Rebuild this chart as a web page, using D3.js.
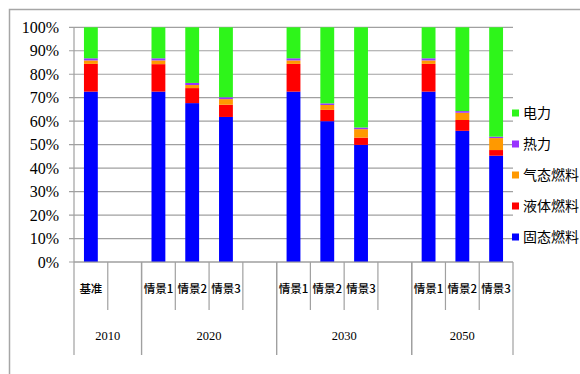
<!DOCTYPE html>
<html>
<head>
<meta charset="utf-8">
<script src="https://cdn.jsdelivr.net/npm/d3@7/dist/d3.min.js"></script>
<style>
  body { margin: 0; background: #fff; }
  svg { display: block; }
</style>
</head>
<body>
<svg id="chart" width="580" height="374"></svg>
<script>
// slots along the x axis, blanks are empty gaps between years
const categories = ['基准', '', '情景1', '情景2', '情景3', '', '情景1', '情景2', '情景3', '', '情景1', '情景2', '情景3']
const groups = [
  { label: '2010', span: 2 },
  { label: '2020', span: 4 },
  { label: '2030', span: 4 },
  { label: '2050', span: 3 }
]
const seriesNames = ['固态燃料', '液体燃料', '气态燃料', '热力', '电力']
const seriesColors = ['#0000ff', '#ff0000', '#ff9900', '#9933ff', '#2ef51a']

// percent values per slot, null for empty slots
const solidFuel  = [72.6, null, 72.6, 67.7, 61.8, null, 72.6, 60.0, 49.9, null, 72.6, 55.9, 45.3]
const liquidFuel = [11.8, null, 11.7,  6.4,  5.2, null, 11.8,  4.8,  3.1, null, 11.8,  4.6,  2.4]
const gasFuel    = [ 1.5, null,  1.6,  1.3,  2.4, null,  1.5,  2.1,  3.6, null,  1.5,  3.1,  5.1]
const heat       = [ 0.9, null,  0.9,  0.9,  0.8, null,  0.9,  0.7,  0.7, null,  0.9,  0.7,  0.6]
const power      = [13.2, null, 13.2, 23.7, 29.8, null, 13.2, 32.4, 42.7, null, 13.2, 35.7, 46.6]
const yTicks = [0, 10, 20, 30, 40, 50, 60, 70, 80, 90, 100]

const svg = d3.select('#chart')
const margin = { left: 74, top: 27.3, right: 513, bottom: 262 }

// outer chart frame (runs past the right/bottom edge)
svg.append('rect')
  .attr('x', 9.5).attr('y', 9.5).attr('width', 600).attr('height', 400)
  .attr('fill', 'none').attr('stroke', '#a6a6a6').attr('stroke-width', 1.5)

const x = d3.scaleBand()
  .domain(d3.range(categories.length))
  .range([margin.left, margin.right])
  .paddingInner(0).paddingOuter(0)
const y = d3.scaleLinear().domain([0, 100]).range([margin.bottom, margin.top])

// gridlines
svg.append('g')
  .selectAll('line')
  .data(yTicks)
  .join('line')
  .attr('x1', margin.left - 5).attr('x2', margin.right)
  .attr('y1', d => y(d)).attr('y2', d => y(d))
  .attr('stroke', '#a0a0a0').attr('stroke-width', 1.2)

// y labels
svg.append('g')
  .selectAll('text')
  .data(yTicks)
  .join('text')
  .attr('x', margin.left - 15)
  .attr('y', d => y(d))
  .attr('dy', '0.35em')
  .attr('text-anchor', 'end')
  .attr('font-family', 'Liberation Serif, serif')
  .attr('font-size', 16)
  .attr('fill', '#000')
  .text(d => d + '%')

// stacked bars
const rows = categories.map((c, i) => ({
  i,
  values: [solidFuel[i], liquidFuel[i], gasFuel[i], heat[i], power[i]]
})).filter(r => r.values[0] != null)

const barW = x.bandwidth() * 0.41
rows.forEach(r => {
  let acc = 0
  r.values.forEach((v, k) => {
    svg.append('rect')
      .attr('x', x(r.i) + (x.bandwidth() - barW) / 2)
      .attr('y', y(acc + v))
      .attr('width', barW)
      .attr('height', y(acc) - y(acc + v))
      .attr('fill', seriesColors[k])
    acc += v
  })
})

// axes lines
svg.append('line')
  .attr('x1', margin.left).attr('x2', margin.left)
  .attr('y1', margin.top).attr('y2', margin.bottom)
  .attr('stroke', '#a0a0a0').attr('stroke-width', 1.2)
svg.append('line')
  .attr('x1', margin.left).attr('x2', margin.right)
  .attr('y1', margin.bottom).attr('y2', margin.bottom)
  .attr('stroke', '#a0a0a0').attr('stroke-width', 1.2)

// category ticks and labels
const tickG = svg.append('g')
d3.range(1, categories.length).forEach(i => {
  tickG.append('line')
    .attr('x1', x(i)).attr('x2', x(i))
    .attr('y1', margin.bottom).attr('y2', 310)
    .attr('stroke', '#a0a0a0').attr('stroke-width', 1.2)
})
tickG.selectAll('text')
  .data(categories.map((c, i) => ({ c, i })).filter(d => d.c))
  .join('text')
  .attr('x', d => x(d.i) + x.bandwidth() / 2)
  .attr('y', 289)
  .attr('dy', '0.35em')
  .attr('text-anchor', 'middle')
  .attr('font-family', 'Noto Sans CJK SC, sans-serif')
  .attr('font-size', 11.5)
  .attr('font-weight', 500)
  .attr('fill', '#000')
  .text(d => d.c)

// group ticks and labels
let start = 0
groups.forEach(g => {
  const x0 = x(start)
  const x1 = x(start + g.span - 1) + x.bandwidth()
  ;[x0, x1].forEach(xx => {
    tickG.append('line')
      .attr('x1', xx).attr('x2', xx)
      .attr('y1', margin.bottom).attr('y2', 355)
      .attr('stroke', '#a0a0a0').attr('stroke-width', 1.2)
  })
  tickG.append('text')
    .attr('x', (x0 + x1) / 2)
    .attr('y', 336)
    .attr('dy', '0.35em')
    .attr('text-anchor', 'middle')
    .attr('font-family', 'Liberation Serif, serif')
    .attr('font-size', 12.5)
    .attr('fill', '#000')
    .text(g.label)
  start += g.span
})

// legend, top entry is the last series
const legendY = d3.scalePoint()
  .domain(seriesNames.slice().reverse())
  .range([113, 237])
const legend = svg.append('g')
seriesNames.forEach((name, k) => {
  legend.append('rect')
    .attr('x', 512).attr('y', legendY(name) - 3.5)
    .attr('width', 7).attr('height', 7)
    .attr('fill', seriesColors[k])
  legend.append('text')
    .attr('x', 523).attr('y', legendY(name))
    .attr('dy', '0.35em')
    .attr('font-family', 'Noto Sans CJK SC, sans-serif')
    .attr('font-size', 14)
    .attr('fill', '#000')
    .text(name)
})
</script>
</body>
</html>
